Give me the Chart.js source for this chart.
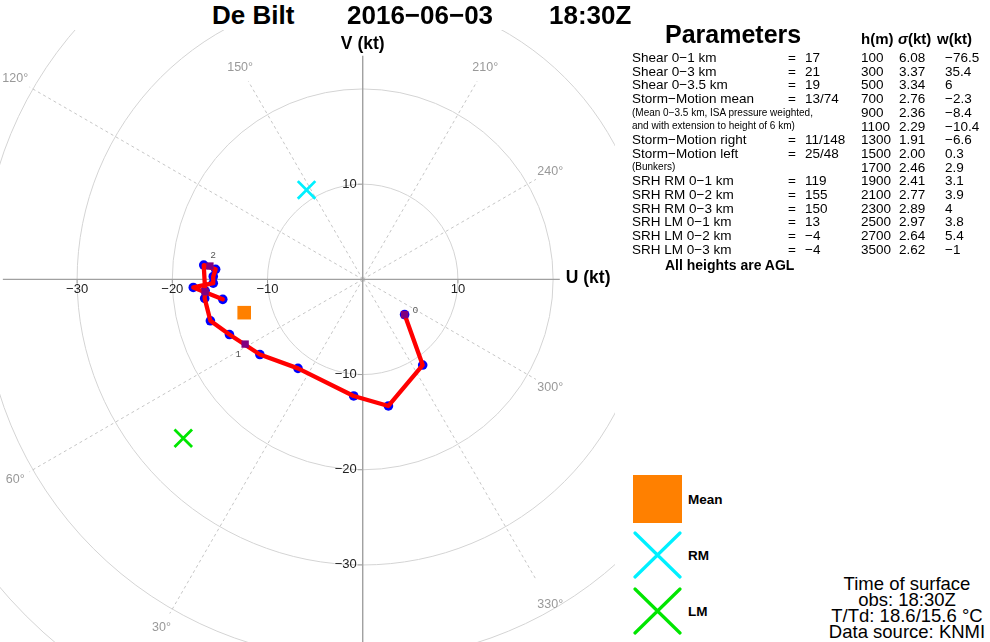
<!DOCTYPE html>
<html>
<head>
<meta charset="utf-8">
<script src="https://cdn.jsdelivr.net/npm/chart.js@4.4.0/dist/chart.umd.min.js"></script>
<style>
  body { margin: 0; width: 990px; height: 642px; background: #fff; position: relative; overflow: hidden;
         font-family: "Liberation Sans", Arial, sans-serif; color: #000; }
  .t { position: absolute; white-space: nowrap; line-height: 1; }
  .b { font-weight: bold; }
  .c { transform: translateX(-50%); }
  #plot { position: absolute; left: 0; top: 30px; width: 615px; height: 612px; }
  svg { position: absolute; }
</style>
</head>
<body>
<div id="plot"><canvas id="hodo"></canvas></div>
<div id="panel"></div>
<script>
// hodograph levels (m AGL) and wind components (kt)
const heights = [0, 100, 300, 500, 700, 900, 1100, 1300, 1500, 1700, 1900, 2100, 2300, 2500, 2700, 3500];
const windU = [4.4, 6.3, 2.7, -0.95, -6.8, -10.8, -14.0, -16.0, -16.6, -16.55, -16.7, -15.45, -15.7, -15.7, -17.8, -14.7];
const windV = [-3.7, -9.0, -13.3, -12.25, -9.35, -7.9, -5.8, -4.35, -2.0, -1.2, 1.5, 1.05, 0.3, -0.4, -0.85, -2.1];

// km markers on the hodograph
const kmLabels = ["0", "1", "2", "3"];
const kmU = [4.4, -12.35, -16.05, -16.55];
const kmV = [-3.7, -6.8, 1.4, -1.3];

// storm motion (mean, right mover, left mover)
const stormNames = ["Mean", "RM", "LM"];
const stormU = [-12.45, -5.9, -18.85];
const stormV = [-3.5, 9.4, -16.7];

// grid
const rings = [10, 20, 30, 40, 50, 60];
const dirAngles = [30, 60, 120, 150, 210, 240, 300, 330];
const uTicks = [-30, -20, -10, 10];
const vTicks = [10, -10, -20, -30];

// parameter panel
const paramNames = ["Shear 0\u22121 km", "Shear 0\u22123 km", "Shear 0\u22123.5 km", "Storm\u2212Motion mean",
  "(Mean 0\u22123.5 km, ISA pressure weighted,", "and with extension to height of 6 km)",
  "Storm\u2212Motion right", "Storm\u2212Motion left", "(Bunkers)",
  "SRH RM 0\u22121 km", "SRH RM 0\u22122 km", "SRH RM 0\u22123 km",
  "SRH LM 0\u22121 km", "SRH LM 0\u22122 km", "SRH LM 0\u22123 km"];
const paramValues = ["17", "21", "19", "13/74", "", "", "11/148", "25/48", "", "119", "155", "150", "13", "\u22124", "\u22124"];
const tableH = ["100", "300", "500", "700", "900", "1100", "1300", "1500", "1700", "1900", "2100", "2300", "2500", "2700", "3500"];
const tableSigma = ["6.08", "3.37", "3.34", "2.76", "2.36", "2.29", "1.91", "2.00", "2.46", "2.41", "2.77", "2.89", "2.97", "2.64", "2.62"];
const tableW = ["\u221276.5", "35.4", "6", "\u22122.3", "\u22128.4", "\u221210.4", "\u22126.6", "0.3", "2.9", "3.1", "3.9", "4", "3.8", "5.4", "\u22121"];
const surfaceLines = ["Time of surface", "obs: 18:30Z", "T/Td: 18.6/15.6 \u00b0C", "Data source: KNMI"];

const FONT = '"Liberation Sans", Arial, sans-serif';
const box = { uMin: -35, uMax: 18.2, vMin: -35.1, vMax: 20.8 }; // extent of the dashed direction lines
const kmOffsets = [[10.7, -4.7], [-6.7, 10], [3.3, -11], [6.7, -10]];

const minus = (n) => String(n).replace("-", "\u2212");

function rayLength(du, dv, pad) {
  const tu = du > 1e-9 ? (box.uMax + pad) / du : du < -1e-9 ? (box.uMin - pad) / du : Infinity;
  const tv = dv > 1e-9 ? (box.vMax + pad) / dv : dv < -1e-9 ? (box.vMin - pad) / dv : Infinity;
  return Math.min(tu, tv);
}

const polarGrid = {
  id: "polarGrid",
  beforeDatasetsDraw(chart) {
    const { ctx, chartArea: a, scales: { x, y } } = chart;
    const ox = x.getPixelForValue(0), oy = y.getPixelForValue(0);
    ctx.save();
    ctx.beginPath();
    ctx.rect(a.left, a.top, a.right - a.left, a.bottom - a.top);
    ctx.clip();

    // speed rings
    ctx.strokeStyle = "#d4d4d4";
    ctx.lineWidth = 1;
    rings.forEach((r) => {
      ctx.beginPath();
      ctx.arc(ox, oy, x.getPixelForValue(r) - ox, 0, 2 * Math.PI);
      ctx.stroke();
    });

    // direction lines + labels
    ctx.setLineDash([3, 3]);
    ctx.strokeStyle = "#c6c6c6";
    ctx.fillStyle = "#999";
    ctx.font = "12.5px " + FONT;
    ctx.textAlign = "center";
    ctx.textBaseline = "middle";
    dirAngles.forEach((d) => {
      const du = -Math.sin(d * Math.PI / 180), dv = -Math.cos(d * Math.PI / 180);
      const t = rayLength(du, dv, 0);
      ctx.beginPath();
      ctx.moveTo(ox, oy);
      ctx.lineTo(x.getPixelForValue(du * t), y.getPixelForValue(dv * t));
      ctx.stroke();
      const t2 = rayLength(du, dv, 1.5);
      ctx.fillText(d + "\u00b0", x.getPixelForValue(du * t2), y.getPixelForValue(dv * t2));
    });
    ctx.setLineDash([]);

    // axes
    ctx.strokeStyle = "#a0a0a0";
    ctx.lineWidth = 1.4;
    ctx.beginPath();
    ctx.moveTo(x.getPixelForValue(-37.8), oy);
    ctx.lineTo(x.getPixelForValue(20.7), oy);
    ctx.moveTo(ox, y.getPixelForValue(23.5));
    ctx.lineTo(ox, y.getPixelForValue(-38.1));
    ctx.stroke();

    ctx.lineWidth = 1;
    ctx.fillStyle = "#222";
    ctx.font = "13px " + FONT;
    uTicks.forEach((t) => {
      const px = x.getPixelForValue(t);
      ctx.beginPath(); ctx.moveTo(px, oy); ctx.lineTo(px, oy + 4); ctx.stroke();
      ctx.textAlign = "center";
      ctx.fillText(minus(t), px, oy + 10);
    });
    vTicks.forEach((t) => {
      const py = y.getPixelForValue(t);
      ctx.beginPath(); ctx.moveTo(ox - 5, py); ctx.lineTo(ox, py); ctx.stroke();
      ctx.textAlign = "right";
      ctx.fillText(minus(t), ox - 6, py);
    });

    // axis titles
    ctx.fillStyle = "#000";
    ctx.font = "bold 17.5px " + FONT;
    ctx.textAlign = "center";
    ctx.fillText("V (kt)", ox, y.getPixelForValue(23.5) - 12);
    ctx.textAlign = "left";
    ctx.fillText("U (kt)", x.getPixelForValue(20.7) + 6, oy - 1);

    // km labels (under the curve)
    ctx.fillStyle = "#555";
    ctx.font = "9.5px " + FONT;
    ctx.textAlign = "center";
    kmLabels.forEach((l, i) => {
      ctx.fillText(l, x.getPixelForValue(kmU[i]) + kmOffsets[i][0], y.getPixelForValue(kmV[i]) + kmOffsets[i][1]);
    });
    ctx.restore();
  }
};

const hodoPoints = heights.map((h, i) => ({ x: windU[i], y: windV[i] }));
const kmPoints = kmLabels.map((l, i) => ({ x: kmU[i], y: kmV[i] }));
const stormPoints = stormNames.map((n, i) => ({ x: stormU[i], y: stormV[i] }));

let ctx = document.getElementById("hodo").getContext("2d");
let hodoChart = new Chart(ctx, {
  type: "scatter",
  data: {
    datasets: [
      {
        label: "km",
        data: kmPoints,
        order: 0,
        pointStyle: "rect",
        pointRadius: 5.2,
        backgroundColor: "#800080",
        borderWidth: 0,
      },
      {
        label: "wind",
        data: hodoPoints,
        order: 1,
        showLine: true,
        pointRadius: 0,
        borderColor: "#ff0000",
        borderWidth: 4.3,
        borderJoinStyle: "round",
        borderCapStyle: "round",
      },
      {
        label: "levels",
        data: hodoPoints,
        order: 2,
        pointRadius: 4.8,
        backgroundColor: "#0000ff",
        borderWidth: 0,
      },
      {
        label: "storm",
        data: stormPoints,
        order: 3,
        pointStyle: ["rect", "crossRot", "crossRot"],
        pointRadius: [9.6, 12.4, 12.4],
        backgroundColor: ["#ff8000", "#00ffff", "#00e600"],
        borderColor: ["#ff8000", "#00f0ff", "#00e600"],
        borderWidth: [0, 2.8, 2.8],
      },
    ],
  },
  options: {
    responsive: true,
    maintainAspectRatio: false,
    animation: false,
    events: [],
    layout: { padding: 0, autoPadding: false },
    plugins: { legend: { display: false }, tooltip: { enabled: false } },
    scales: {
      x: { type: "linear", min: -38.1, max: 26.5, display: false },
      y: { type: "linear", min: -38.1, max: 26.2, display: false },
    },
  },
  plugins: [polarGrid],
});

// ---- text panel ----
const panel = document.getElementById("panel");
function addText(txt, left, cy, size, cls, html) {
  const d = document.createElement("div");
  d.className = "t " + (cls || "");
  if (html) d.innerHTML = txt; else d.textContent = txt;
  d.style.left = left + "px";
  d.style.top = (cy - size * 0.49) + "px";
  d.style.fontSize = size + "px";
  panel.appendChild(d);
  return d;
}

addText("De Bilt", 212, 15, 26, "b");
addText("2016\u221206\u221203", 347, 15, 26, "b");
addText("18:30Z", 549, 15, 26, "b");

addText("Parameters", 665, 34, 25, "b");
addText("h(m)", 861, 38.5, 15, "b");
addText("<i>\u03c3</i>(kt)", 898, 38.5, 15, "b", true);
addText("w(kt)", 937, 38.5, 15, "b");

paramNames.forEach((n, i) => {
  const cy = 57.7 + 13.7 * i;
  const small = paramValues[i] === "" && n.startsWith("(") || i === 5;
  addText(n, 632, cy, small ? 10 : 13.5);
  if (paramValues[i] !== "") {
    addText("=", 788, cy, 13.5);
    addText(paramValues[i], 805, cy, 13.5);
  }
  addText(tableH[i], 861, cy, 13.5);
  addText(tableSigma[i], 899, cy, 13.5);
  addText(tableW[i], 945, cy, 13.5);
});
addText("All heights are AGL", 665, 265, 14, "b");

// legend
const legendColors = ["#ff8000", "#00f0ff", "#00e600"];
const legendTop = [475, 531, 587];
stormNames.forEach((n, i) => {
  let mark;
  if (i === 0) {
    mark = '<rect x="0" y="0" width="49" height="48" fill="' + legendColors[i] + '"/>';
  } else {
    mark = '<path d="M2 2 L47 46 M47 2 L2 46" stroke="' + legendColors[i] +
      '" stroke-width="3.2" stroke-linecap="round" fill="none"/>';
  }
  const s = document.createElementNS("http://www.w3.org/2000/svg", "svg");
  s.setAttribute("width", "49");
  s.setAttribute("height", "48");
  s.style.left = "633px";
  s.style.top = legendTop[i] + "px";
  s.innerHTML = mark;
  panel.appendChild(s);
  addText(n, 688, legendTop[i] + 24.5, 13.5, "b");
});

surfaceLines.forEach((l, i) => {
  addText(l, 907, 584.5 + 16 * i, 18.5, "c");
});
</script>
</body>
</html>
